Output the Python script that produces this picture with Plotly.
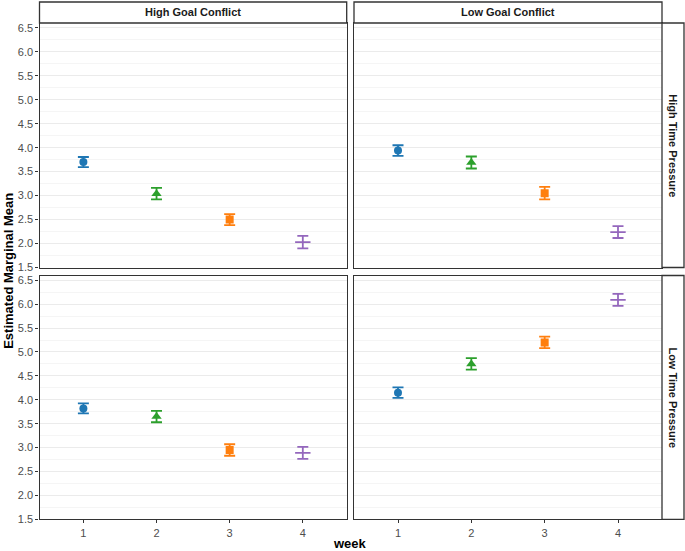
import plotly.graph_objects as go

W, H = 685, 551
KY = 0.988  # vertical calibration of the rendered page

weeks = [1, 2, 3, 4]
week_colors = ["#1f77b4", "#2ca02c", "#ff7f0e", "#9467bd"]
week_symbols = ["circle", "triangle-up", "square", "line-ew"]

col_labels = ["High Goal Conflict", "Low Goal Conflict"]
row_labels = ["High Time Pressure", "Low Time Pressure"]

# Estimated marginal means (row = time pressure, col = goal conflict)
mean_htp_hgc = [3.70, 3.04, 2.50, 2.03]
se_htp_hgc = [0.105, 0.12, 0.115, 0.13]
mean_htp_lgc = [3.94, 3.69, 3.05, 2.24]
se_htp_lgc = [0.11, 0.125, 0.13, 0.125]
mean_ltp_hgc = [3.82, 3.65, 2.95, 2.89]
se_ltp_hgc = [0.105, 0.12, 0.12, 0.125]
mean_ltp_lgc = [4.15, 4.75, 5.20, 6.09]
se_ltp_lgc = [0.11, 0.12, 0.12, 0.125]

y_ticks = [1.5, 2.0, 2.5, 3.0, 3.5, 4.0, 4.5, 5.0, 5.5, 6.0, 6.5]

panels = [
    (0, 0, mean_htp_hgc, se_htp_hgc),
    (0, 1, mean_htp_lgc, se_htp_lgc),
    (1, 0, mean_ltp_hgc, se_ltp_hgc),
    (1, 1, mean_ltp_lgc, se_ltp_lgc),
]

# layout geometry in pixels
col_px = [(39.5, 346.7), (354.0, 662.0)]
row_px = [(22.0, 266.7), (274.7, 518.7)]
strip_top = (1.0, 22.0)
strip_right = (662.0, 684.0)


def fx(p):
    return p / W


def fy(p):
    return 1 - (p / KY) / H


fig = go.Figure()

for r, c, means, ses in panels:
    idx = r * 2 + c + 1
    xa = "x" if idx == 1 else f"x{idx}"
    ya = "y" if idx == 1 else f"y{idx}"
    for i, wk in enumerate(weeks):
        sym = week_symbols[i]
        is_line = sym == "line-ew"
        fig.add_trace(go.Scatter(
            x=[wk], y=[means[i]], mode="markers", xaxis=xa, yaxis=ya,
            showlegend=False,
            marker=dict(
                symbol=sym, color=week_colors[i],
                size=11 if is_line else (9 if sym == "triangle-up" else 8),
                line=dict(color=week_colors[i], width=1.8 if is_line else 0),
            ),
            error_y=dict(type="data", array=[ses[i]], visible=True,
                         color=week_colors[i], thickness=1.8, width=5.5),
        ))

layout = dict(
    width=W, height=H,
    margin=dict(l=0, r=0, t=0, b=0),
    paper_bgcolor="white", plot_bgcolor="white",
    font=dict(family="Liberation Sans, Arial, sans-serif", color="#4d4d4d", size=11),
)

for r in range(2):
    for c in range(2):
        idx = r * 2 + c + 1
        xk = "xaxis" if idx == 1 else f"xaxis{idx}"
        yk = "yaxis" if idx == 1 else f"yaxis{idx}"
        x0, x1 = col_px[c]
        y0, y1 = row_px[r]
        layout[xk] = dict(
            domain=[fx(x0), fx(x1)], range=[0.4, 4.6],
            anchor="y" if idx == 1 else f"y{idx}",
            tickvals=weeks, ticktext=[str(w) for w in weeks],
            showticklabels=(r == 1), ticks="outside" if r == 1 else "",
            ticklen=3, tickcolor="#333333", tickwidth=1,
            showgrid=False, zeroline=False,
            showline=True, mirror=True, linecolor="#333333", linewidth=1.3,
            tickfont=dict(size=11, color="#4d4d4d"),
        )
        layout[yk] = dict(
            domain=[fy(y1), fy(y0)], range=[1.5, 6.6],
            anchor="x" if idx == 1 else f"x{idx}",
            tickvals=y_ticks, ticktext=[f"{v:.1f}" for v in y_ticks],
            showticklabels=(c == 0), ticks="outside" if c == 0 else "",
            ticklen=3, tickcolor="#333333", tickwidth=1,
            showgrid=True, gridcolor="#ebebeb", gridwidth=1,
            minor=dict(tickvals=[v + 0.25 for v in y_ticks], showgrid=True,
                       gridcolor="#f5f5f5", gridwidth=1, ticks=""),
            zeroline=False,
            showline=True, mirror=True, linecolor="#333333", linewidth=1.3,
            tickfont=dict(size=11, color="#4d4d4d"),
        )

shapes = []
annotations = []
for c in range(2):
    x0, x1 = col_px[c]
    shapes.append(dict(type="rect", xref="paper", yref="paper",
                       x0=fx(x0), x1=fx(x1), y0=fy(strip_top[1]), y1=fy(strip_top[0]),
                       line=dict(color="#333333", width=1.3), fillcolor="white"))
    annotations.append(dict(xref="paper", yref="paper", x=fx((x0 + x1) / 2),
                            y=fy((strip_top[0] + strip_top[1]) / 2),
                            text=f"<b>{col_labels[c]}</b>", showarrow=False,
                            font=dict(size=11, color="#1a1a1a"),
                            xanchor="center", yanchor="middle"))
for r in range(2):
    y0, y1 = row_px[r]
    shapes.append(dict(type="rect", xref="paper", yref="paper",
                       x0=fx(strip_right[0]), x1=fx(strip_right[1]), y0=fy(y1), y1=fy(y0),
                       line=dict(color="#333333", width=1.3), fillcolor="white"))
    annotations.append(dict(xref="paper", yref="paper",
                            x=fx((strip_right[0] + strip_right[1]) / 2),
                            y=fy((y0 + y1) / 2),
                            text=f"<b>{row_labels[r]}</b>", showarrow=False, textangle=90,
                            font=dict(size=11, color="#1a1a1a"),
                            xanchor="center", yanchor="middle"))

annotations.append(dict(xref="paper", yref="paper", x=fx(9), y=fy(270),
                        text="<b>Estimated Marginal Mean</b>", showarrow=False,
                        textangle=-90, font=dict(size=13, color="black"),
                        xanchor="center", yanchor="middle"))
annotations.append(dict(xref="paper", yref="paper", x=fx(350), y=fy(543),
                        text="<b>week</b>", showarrow=False,
                        font=dict(size=13, color="black"),
                        xanchor="center", yanchor="middle"))

layout["shapes"] = shapes
layout["annotations"] = annotations
fig.update_layout(**layout)

fig.write_html(
    "out.html",
    config={"displayModeBar": False},
    post_script="document.body.style.margin='0';document.body.style.overflow='hidden';",
)
